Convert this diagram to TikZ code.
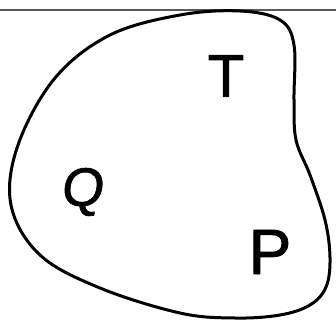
\documentclass[tikz,border=0pt]{standalone}
\usepackage{fontspec}
\setmainfont{Liberation Sans}
\newfontfamily\letterfont[FakeBold=1.3]{Liberation Sans}
\begin{document}
\begin{tikzpicture}[x=1pt, y=-1pt, line cap=round, line join=round,
  letter/.style={inner sep=0pt, font=\letterfont\fontsize{60}{60}\selectfont}]
  \useasboundingbox (0,0) rectangle (336,329);

  % frame line at the top
  \coordinate (L0) at (0,10);
  \coordinate (L1) at (336,10);
  \draw[black!65, line width=1.1pt] (L0)--(L1);

  % the region
  \draw[line width=3pt] plot[smooth cycle, tension=.6] coordinates {
    (180,15) (240,11) (280,20) (294,45) (294,100) (296,140) (310,175)
    (325,220) (330,258) (326,287) (310,305) (280,315) (235,318) (180,313)
    (100,288) (40,255) (11,205) (18,145) (55,78) (110,35)};

  \node[letter] (T) at (226,76) {T};
  \node[letter, font=\letterfont\fontsize{54}{54}\selectfont, xslant=.12] (Q) at (83,192) {Q};
  \node[letter, font=\letterfont\fontsize{64}{64}\selectfont] (P) at (270,252) {P};
\end{tikzpicture}
\end{document}
